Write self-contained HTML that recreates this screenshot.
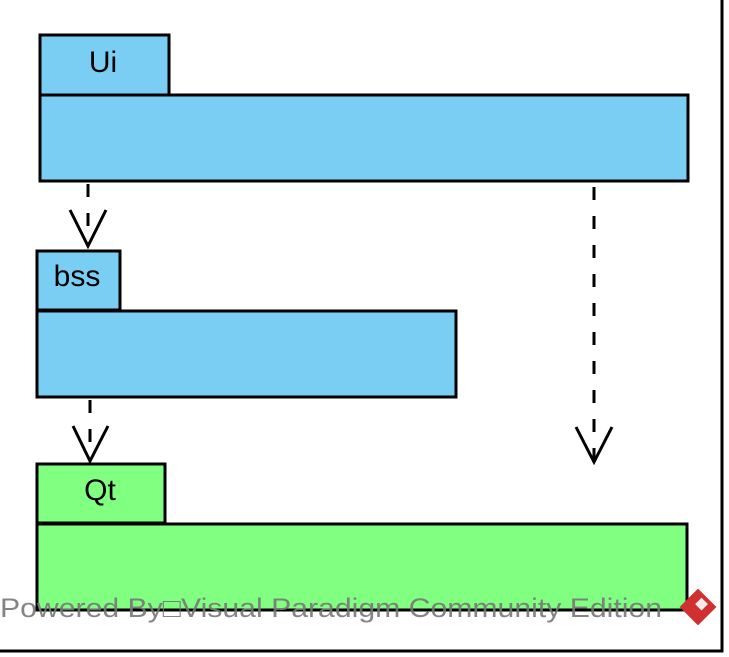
<!DOCTYPE html>
<html><head><meta charset="utf-8"><style>html,body{margin:0;padding:0;background:#fff}svg{display:block}</style></head>
<body>
<svg width="729" height="657" viewBox="0 0 729 657" xmlns="http://www.w3.org/2000/svg" font-family="Liberation Sans, Arial, sans-serif">
<rect width="729" height="657" fill="#fff"/>
<line x1="722" y1="0" x2="722" y2="652" stroke="#000" stroke-width="3"/>
<line x1="0" y1="651" x2="723.5" y2="651" stroke="#000" stroke-width="3"/>
<g stroke="#000" stroke-width="3">
<rect x="40" y="35" width="129" height="60" fill="#7acef4"/>
<rect x="40" y="95" width="648" height="86" fill="#7acef4"/>
<rect x="37" y="251" width="83" height="59" fill="#7acef4"/>
<rect x="37" y="311" width="419" height="86" fill="#7acef4"/>
<rect x="37" y="464" width="128" height="59" fill="#80ff80"/>
<rect x="37" y="524" width="650" height="86" fill="#80ff80"/>
</g>
<g font-size="30" text-anchor="middle" fill="#000">
<text x="103" y="72">Ui</text>
<text x="77" y="286">bss</text>
<text x="100" y="500">Qt</text>
</g>
<g stroke="#000" stroke-width="3" fill="none" stroke-dasharray="13,16">
<line x1="88" y1="184" x2="88" y2="246"/>
<line x1="90" y1="400" x2="90" y2="460"/>
<line x1="594" y1="187" x2="594" y2="461"/>
</g>
<g stroke="#000" stroke-width="3" fill="none">
<polyline points="70,210 88,246 106,210"/>
<polyline points="73,426 90,461 108,426"/>
<polyline points="576,427 594,462 612,427"/>
</g>
<text x="0" y="617" font-size="27" fill="#777" fill-opacity="0.9" textLength="662" lengthAdjust="spacingAndGlyphs">Powered By□Visual Paradigm Community Edition</text>
<g transform="translate(698,607) rotate(45)">
<rect x="-13" y="-13" width="26" height="26" fill="#d03030"/>
<rect x="-4" y="-9" width="9" height="9" fill="#fff" opacity="0.9"/>
</g>
</svg>
</body></html>
